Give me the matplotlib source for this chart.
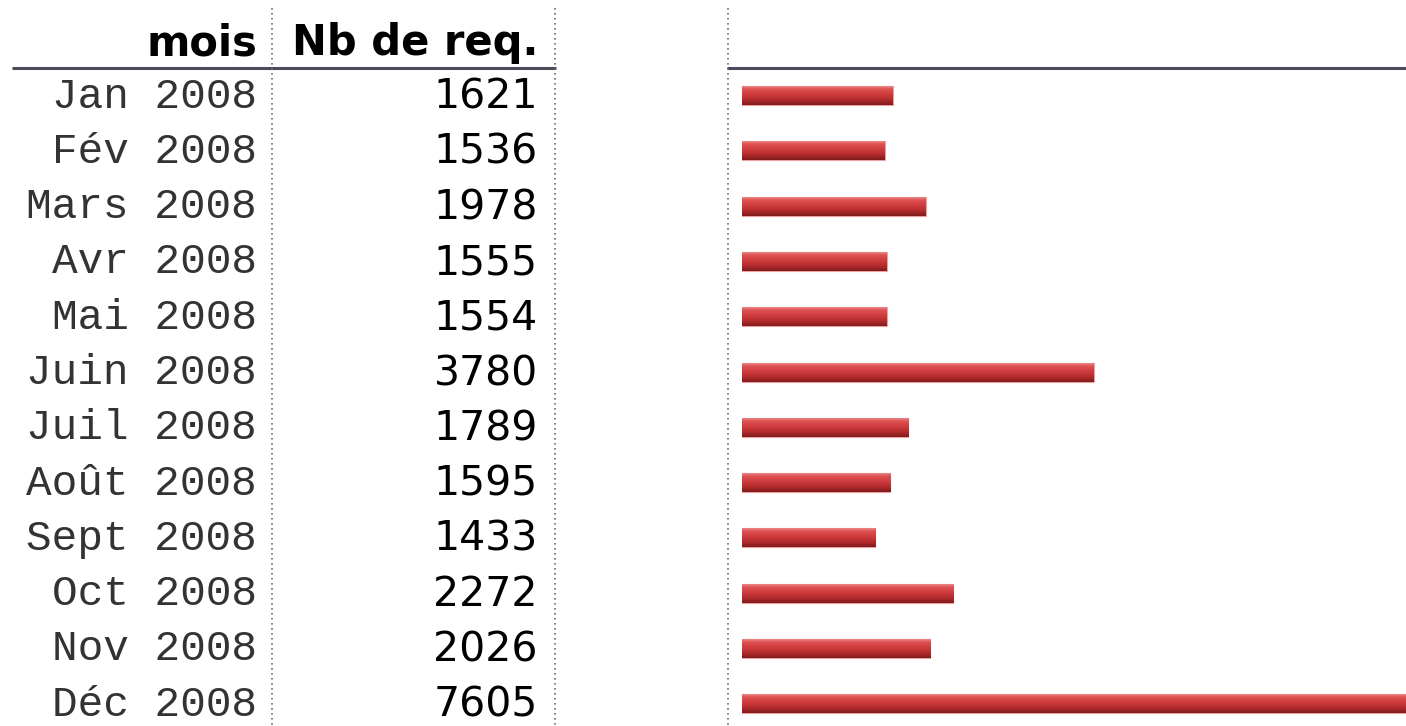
import matplotlib
matplotlib.use("Agg")
import matplotlib.pyplot as plt
import numpy as np
from matplotlib.colors import LinearSegmentedColormap

# ---- data ----
months = ["Jan 2008", "Fév 2008", "Mars 2008", "Avr 2008", "Mai 2008", "Juin 2008",
          "Juil 2008", "Août 2008", "Sept 2008", "Oct 2008", "Nov 2008", "Déc 2008"]
requests = [1621, 1536, 1978, 1555, 1554, 3780, 1789, 1595, 1433, 2272, 2026, 7605]
col_headers = ["mois", "Nb de req."]

W, H = 1406, 726
fig = plt.figure(figsize=(W / 100, H / 100), dpi=100)

# ---- table layer (pixel coordinates) ----
tab = fig.add_axes([0, 0, 1, 1])
tab.set_xlim(0, W)
tab.set_ylim(H, 0)
tab.axis("off")

row0, row_step = 95.5, 55.3
n = len(months)

# headers
tab.text(257, 55, col_headers[0], ha="right", va="baseline",
         fontfamily="DejaVu Sans", fontweight="bold", fontsize=30, color="black")
tab.text(538, 55, col_headers[1], ha="right", va="baseline",
         fontfamily="DejaVu Sans", fontweight="bold", fontsize=30, color="black")

# header rule
tab.plot([12, 556], [68, 68], color="#4a4a5a", lw=2.2, solid_capstyle="butt")
tab.plot([727, W], [68, 68], color="#4a4a5a", lw=2.2, solid_capstyle="butt")

# dotted column separators
for x in (272, 555, 728):
    tab.plot([x, x], [8, H], color="#6a6a7e", lw=1.2, ls=(0, (1, 2)))

for i, (m, v) in enumerate(zip(months, requests)):
    yc = row0 + row_step * i
    tab.text(257, yc + 1, m, ha="right", va="center",
             fontfamily="Liberation Mono", fontsize=30.8, color="#333333")
    tab.text(538, yc + 2, str(v), ha="right", va="center",
             fontfamily="DejaVu Sans", fontsize=29.5, color="black")

# ---- bar layer ----
left_px = 742
bx = fig.add_axes([left_px / W, 0, (W - left_px) / W, 1])
bx.axis("off")
bx.patch.set_alpha(0)

bar_h = 19 / row_step
bars = bx.barh(np.arange(n), requests, height=bar_h, color="none",
               edgecolor="#f0a0a0", linewidth=0.8)

cmap = LinearSegmentedColormap.from_list(
    "redgrad", [(0.0, "#ea8686"), (0.15, "#de5252"), (0.45, "#cf3b3d"),
                (0.75, "#b02a2c"), (1.0, "#7e1c1c")])
grad = np.linspace(0, 1, 64).reshape(-1, 1)
for p in bars:
    x0, y0 = p.get_x(), p.get_y()
    w, h = p.get_width(), p.get_height()
    im = bx.imshow(grad, cmap=cmap, aspect="auto",
                   extent=(x0, x0 + w, y0 + h, y0), origin="upper",
                   interpolation="bilinear", zorder=1)
    im.set_clip_path(p)
bx.set_xlim(0, 7140)
bx.set_ylim((H - row0) / row_step, -row0 / row_step)

fig.savefig("out.png", dpi=100)
